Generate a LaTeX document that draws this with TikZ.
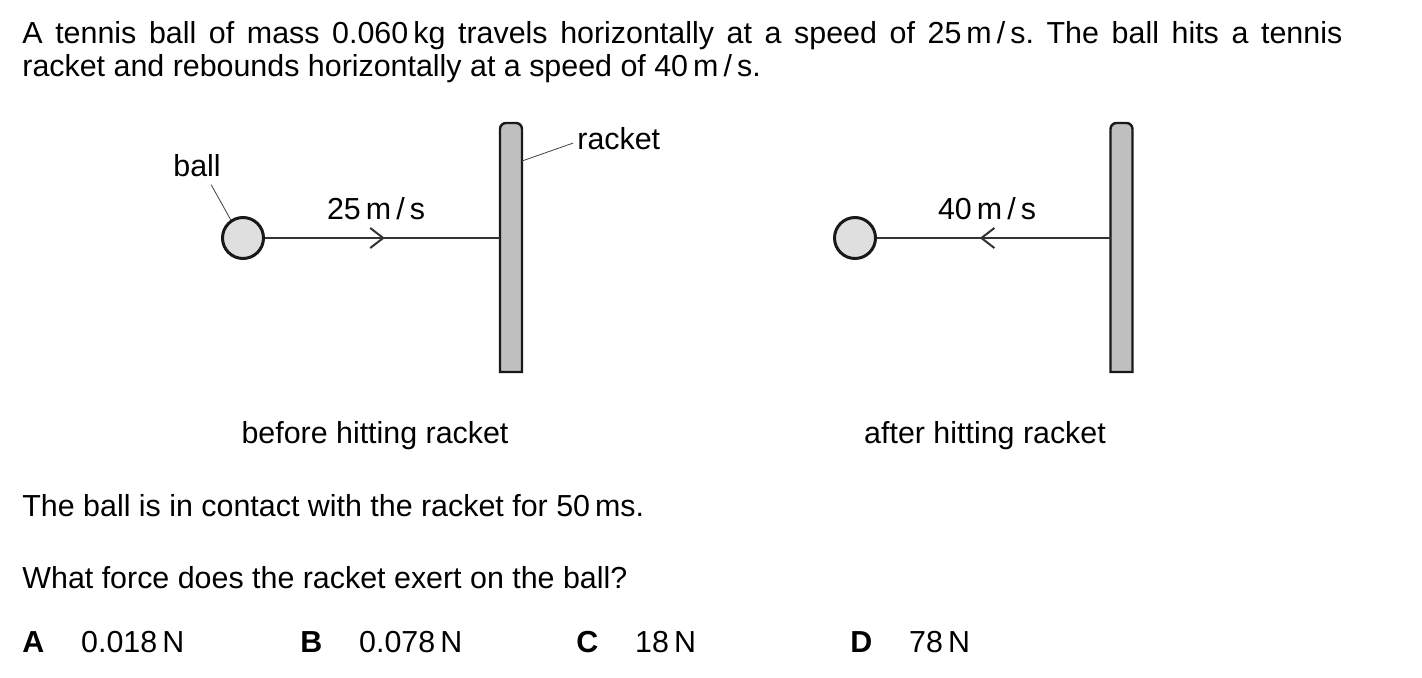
\documentclass[tikz,border=0pt]{standalone}
\usepackage{fontspec}
\setmainfont{Liberation Sans}
\usepackage{tikz}
\usetikzlibrary{positioning, arrows.meta, decorations.markings}
\tikzstyle{ballnode} =[circle, draw=black!90, fill=gray!25, line width=1.5pt, minimum size=20.5pt, inner sep=0pt]
\tikzstyle{racketnode} =[rectangle, minimum width=11pt, minimum height=124.5pt, inner sep=0pt, outer sep=0pt]
\tikzstyle{racketbody} =[draw=black!90, fill=gray!50, line width=1.2pt]
\tikzstyle{txt} =[anchor=base west, inner sep=0pt]
\tikzstyle{lbl} =[anchor=base, inner sep=0pt]
\tikzstyle{pointer} =[line width=0.4pt, black!75]
\tikzstyle{speedline} =[line width=0.8pt, black!80]
\tikzset{midarrow/.style={postaction={decorate}, decoration={markings, mark=at position #1 with {\arrow{Straight Barb[length=6.5pt, width=10pt, line width=1pt]}}}}}
\newcommand{\racketshape}[1]{\draw[racketbody] (#1.south west) {[rounded corners=3pt] -- (#1.north west) -- (#1.north east)} -- (#1.south east) -- cycle;}

\begin{document}
\frenchspacing
\begin{tikzpicture}[x=0.5pt, y=-0.5pt, every node/.style={font=\fontsize{15.2}{16.7}\selectfont}]
\useasboundingbox (0,0) rectangle (1422,678);

% question text
\node (line1) [txt] at (22,44) {\makebox[660pt][s]{A tennis ball of mass 0.060\,kg travels horizontally at a speed of 25\,m\,/\,s. The ball hits a tennis}};
\node (line2) [txt] at (22,77) {racket and rebounds horizontally at a speed of 40\,m\,/\,s.};

% before hitting racket
\node (ball1) [ballnode] at (243,238) {};
\node (racket1) [racketnode] at (511,247.5) {};
\racketshape{racket1}
\draw[speedline, midarrow=0.51] (ball1.east) -- (ball1.east -| racket1.west);
\node (speed1) [lbl] at (376,220) {25\,m\,/\,s};

\node (ballLabel) [txt] at (173,177) {ball};
\draw[pointer] ([xshift=-5pt, yshift=-3.5pt]ballLabel.south east) -- (ball1.124);
\node (racketLabel) [txt] at (577,150) {racket};
\draw[pointer] ([xshift=-2pt, yshift=-2pt]racketLabel.west) -- ([yshift=-19pt]racket1.north east);

\node (caption1) [lbl] at (375,443) {before hitting racket};

% after hitting racket
\node (ball2) [ballnode] at (855,238) {};
\node (racket2) [racketnode] at (1121.5,247.5) {};
\racketshape{racket2}
\draw[speedline, midarrow=0.56] (ball2.east -| racket2.west) -- (ball2.east);
\node (speed2) [lbl] at (987,220) {40\,m\,/\,s};

\node (caption2) [lbl] at (985,443) {after hitting racket};

% question
\node (contact) [txt] at (22,516) {The ball is in contact with the racket for 50\,ms.};
\node (question) [txt] at (22,588) {What force does the racket exert on the ball?};

% options
\node (optA) [txt, font=\fontsize{15.2}{16.7}\selectfont\bfseries] at (22,652) {A};
\node (valA) [txt, base right=18pt of optA] {0.018\,N};
\node (optB) [txt, font=\fontsize{15.2}{16.7}\selectfont\bfseries] at (300,652) {B};
\node (valB) [txt, base right=18pt of optB] {0.078\,N};
\node (optC) [txt, font=\fontsize{15.2}{16.7}\selectfont\bfseries] at (576,652) {C};
\node (valC) [txt, base right=18pt of optC] {18\,N};
\node (optD) [txt, font=\fontsize{15.2}{16.7}\selectfont\bfseries] at (850,652) {D};
\node (valD) [txt, base right=18pt of optD] {78\,N};
\end{tikzpicture}
\end{document}
